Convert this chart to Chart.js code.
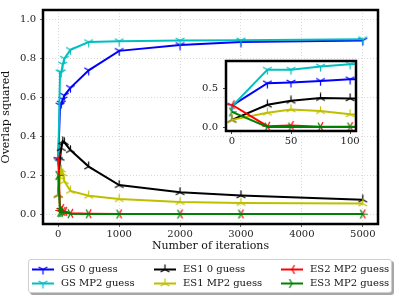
<!DOCTYPE html>
<html>
<head>
<meta charset="utf-8">
<script src="https://cdn.jsdelivr.net/npm/chart.js@4.4.0/dist/chart.umd.min.js"></script>
<style>
  body { margin: 0; background: #fff; }
  #wrap { position: relative; width: 399px; height: 298px; font-family: 'DejaVu Serif', serif; }
  #main { position: absolute; left: 0; top: 0; }
  #inset { position: absolute; left: 200px; top: 50px; }
  #legend {
    position: absolute; left: 28px; top: 259px; width: 362px; height: 32px;
    border: 1px solid #cfcfcf; border-radius: 3px; background: #fff;
    box-shadow: 2px 2px 0 rgba(0,0,0,0.35);
  }
  .item { position: absolute; height: 12px; font-size: 10px; line-height: 12px; color: #111; white-space: nowrap; }
  .item canvas { position: absolute; left: 0; top: 1px; }
  .item span { position: absolute; left: 29px; top: 0; }
</style>
</head>
<body>
<div id="wrap">
  <canvas id="main" width="399" height="298"></canvas>
  <canvas id="inset" width="170" height="100"></canvas>
  <div id="legend"></div>
</div>
<script>
// iterations on the x axis
const iterations = [0, 30, 50, 75, 100, 200, 500, 1000, 2000, 3000, 5000];

// overlap squared per series
const gs0 = [0.28, 0.56, 0.57, 0.59, 0.61, 0.65, 0.74, 0.84, 0.87, 0.885, 0.893];
const gsMp2 = [0.27, 0.73, 0.73, 0.77, 0.80, 0.845, 0.885, 0.89, 0.893, 0.894, 0.9];
const es1_0 = [0.10, 0.29, 0.34, 0.375, 0.37, 0.33, 0.245, 0.15, 0.113, 0.097, 0.075];
const es1Mp2 = [0.10, 0.19, 0.23, 0.21, 0.17, 0.12, 0.095, 0.078, 0.063, 0.058, 0.055];
const es2Mp2 = [0.29, 0.02, 0.03, 0.015, 0.015, 0.005, 0.003, 0.002, 0.002, 0.002, 0.002];
const es3Mp2 = [0.20, 0.01, 0.01, 0.01, 0.01, 0.003, 0.002, 0.001, 0.001, 0.001, 0.001];

const seriesLabels = ['GS 0 guess', 'GS MP2 guess', 'ES1 0 guess', 'ES1 MP2 guess', 'ES2 MP2 guess', 'ES3 MP2 guess'];
const seriesValues = [gs0, gsMp2, es1_0, es1Mp2, es2Mp2, es3Mp2];
const seriesColors = ['#0000ff', '#00bfbf', '#000000', '#bfbf00', '#ff0000', '#008000'];
const seriesMarkers = ['down', 'down', 'up', 'up', 'left', 'right'];

// tick labels
const xTicks = [0, 1000, 2000, 3000, 4000, 5000];
const yTicks = [0, 0.2, 0.4, 0.6, 0.8, 1.0];
const insetXTicks = [0, 50, 100];
const insetYTicks = [0, 0.5];

Chart.defaults.font.family = "'DejaVu Serif', serif";
Chart.defaults.font.size = 10;
Chart.defaults.color = '#222';

// matplotlib style tri markers (1, 2, 3, 4)
function triMarker(kind, color, size) {
  const c = document.createElement('canvas');
  c.width = c.height = size;
  const g = c.getContext('2d');
  const m = size / 2, r = size / 2 - 0.5;
  const angles = { down: [90, 210, 330], up: [270, 30, 150], left: [180, 300, 60], right: [0, 120, 240] }[kind];
  g.strokeStyle = color;
  g.lineWidth = 1.2;
  g.beginPath();
  angles.forEach(a => {
    const t = a * Math.PI / 180;
    g.moveTo(m, m);
    g.lineTo(m + r * Math.cos(t), m + r * Math.sin(t));
  });
  g.stroke();
  return c;
}

function makeDatasets() {
  return seriesLabels.map((label, i) => ({
    label: label,
    data: iterations.map((x, j) => ({ x: x, y: seriesValues[i][j] })),
    borderColor: seriesColors[i],
    backgroundColor: seriesColors[i],
    borderWidth: 2,
    pointStyle: triMarker(seriesMarkers[i], seriesColors[i], 11),
    pointRadius: 5,
    tension: 0,
    order: seriesLabels.length - i
  }));
}

const framePlugin = {
  id: 'frame',
  beforeDraw(chart) {
    const a = chart.chartArea, g = chart.ctx;
    g.save();
    g.fillStyle = '#fff';
    g.fillRect(a.left, a.top, a.right - a.left, a.bottom - a.top);
    g.restore();
  },
  afterDatasetsDraw(chart) {
    const a = chart.chartArea, g = chart.ctx;
    g.save();
    g.strokeStyle = '#000';
    g.lineWidth = 2.5;
    g.strokeRect(a.left, a.top, a.right - a.left, a.bottom - a.top);
    g.restore();
  }
};

const setTicks = list => scale => { scale.ticks = list.map(v => ({ value: v })); };

const gridOpts = { color: '#d0d0d0', lineWidth: 0.8, tickLength: 3, tickColor: '#444' };

new Chart(document.getElementById('main'), {
  type: 'line',
  data: { datasets: makeDatasets() },
  options: {
    responsive: false,
    animation: false,
    devicePixelRatio: 1,
    layout: { padding: { top: 7, right: 21, bottom: 45, left: 0 } },
    plugins: { legend: { display: false }, tooltip: { enabled: false } },
    scales: {
      x: {
        type: 'linear', min: -250, max: 5250,
        afterBuildTicks: setTicks(xTicks),
        afterFit: s => { s.height = 29; },
        grid: gridOpts,
        border: { display: false, dash: [1, 2] },
        ticks: { maxRotation: 0, padding: 1, callback: v => String(v) },
        title: { display: true, text: 'Number of iterations', font: { size: 11 }, padding: 0, color: '#111' }
      },
      y: {
        type: 'linear', min: -0.05, max: 1.05,
        afterBuildTicks: setTicks(yTicks),
        afterFit: s => { s.width = 43; },
        grid: gridOpts,
        border: { display: false, dash: [1, 2] },
        ticks: { padding: 4, callback: v => v.toFixed(1) },
        title: { display: true, text: 'Overlap squared', font: { size: 11 }, padding: { top: 0, bottom: 3 }, color: '#111' }
      }
    }
  },
  plugins: [framePlugin]
});

new Chart(document.getElementById('inset'), {
  type: 'line',
  data: { datasets: makeDatasets() },
  options: {
    responsive: false,
    animation: false,
    devicePixelRatio: 1,
    layout: { padding: { top: 9, right: 14, bottom: 0, left: 0 } },
    plugins: { legend: { display: false }, tooltip: { enabled: false } },
    scales: {
      x: {
        type: 'linear', min: -5, max: 105,
        afterBuildTicks: setTicks(insetXTicks),
        afterFit: s => { s.height = 19; },
        grid: { drawOnChartArea: false, tickLength: 3, tickColor: '#444' },
        border: { display: false },
        ticks: { maxRotation: 0, padding: 1, callback: v => String(v) }
      },
      y: {
        type: 'linear', min: -0.04, max: 0.84,
        afterBuildTicks: setTicks(insetYTicks),
        afterFit: s => { s.width = 26; },
        grid: { drawOnChartArea: false, tickLength: 3, tickColor: '#444' },
        border: { display: false },
        ticks: { padding: 5, callback: v => v.toFixed(1) }
      }
    }
  },
  plugins: [framePlugin]
});

// legend, three columns filled column by column
const legendCols = [3, 125, 252];
const legendRows = [3, 17];
const legend = document.getElementById('legend');
seriesLabels.forEach((label, i) => {
  const item = document.createElement('div');
  item.className = 'item';
  item.style.left = legendCols[Math.floor(i / 2)] + 'px';
  item.style.top = legendRows[i % 2] + 'px';
  const c = document.createElement('canvas');
  c.width = 22; c.height = 11;
  const g = c.getContext('2d');
  g.strokeStyle = seriesColors[i];
  g.lineWidth = 2;
  g.beginPath(); g.moveTo(0, 5.5); g.lineTo(22, 5.5); g.stroke();
  g.drawImage(triMarker(seriesMarkers[i], seriesColors[i], 11), 5.5, 0);
  const s = document.createElement('span');
  s.textContent = label;
  item.appendChild(c);
  item.appendChild(s);
  legend.appendChild(item);
});
</script>
</body>
</html>
